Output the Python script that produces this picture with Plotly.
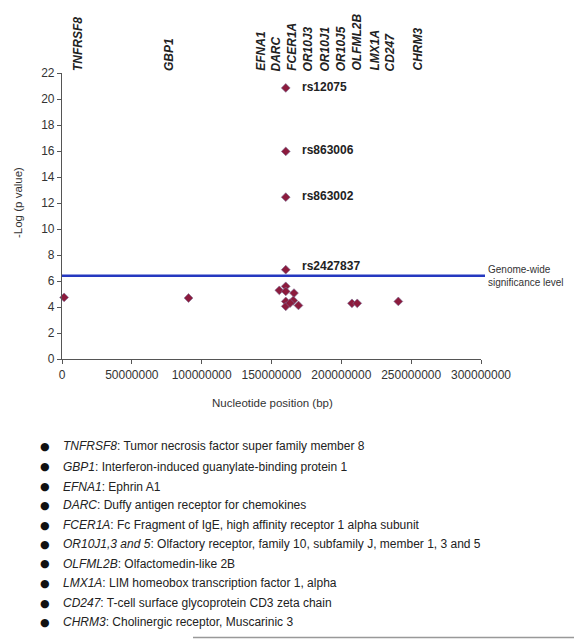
import plotly.graph_objects as go

# ---- data ----
snp_pos = [1.5e6, 90.6e6, 155.6e6, 160.2e6, 160.2e6, 166.1e6, 160.2e6, 165.6e6,
           160.2e6, 169.3e6, 163.3e6, 207.6e6, 211.4e6, 240.8e6,
           160.2e6, 160.2e6, 160.2e6, 160.2e6]
snp_logp = [4.74, 4.69, 5.28, 5.59, 5.2, 5.07, 4.43, 4.5,
            4.05, 4.12, 4.3, 4.28, 4.28, 4.43,
            6.87, 12.45, 15.97, 20.85]
top_snps = ["rs2427837", "rs863002", "rs863006", "rs12075"]
top_pos = [160.2e6, 160.2e6, 160.2e6, 160.2e6]
top_logp = [6.87, 12.45, 15.97, 20.85]

genes = ["TNFRSF8", "GBP1", "EFNA1", "DARC", "FCER1A", "OR10J3", "OR10J1",
         "OR10J5", "OLFML2B", "LMX1A", "CD247", "CHRM3"]
gene_label_pos = [11.5e6, 76.3e6, 142.3e6, 153.2e6, 164.5e6, 176.1e6, 188.3e6,
                  199.6e6, 210.5e6, 223.4e6, 234.8e6, 254.2e6]

significance = 6.4

legend_genes = ["TNFRSF8", "GBP1", "EFNA1", "DARC", "FCER1A", "OR10J1,3 and 5",
                "OLFML2B", "LMX1A", "CD247", "CHRM3"]
legend_desc = [
    "Tumor necrosis factor super family member 8",
    "Interferon-induced guanylate-binding protein 1",
    "Ephrin A1",
    "Duffy antigen receptor for chemokines",
    "Fc Fragment of IgE, high affinity receptor 1 alpha subunit",
    "Olfactory receptor, family 10, subfamily J, member 1, 3 and 5",
    "Olfactomedin-like 2B",
    "LIM homeobox transcription factor 1, alpha",
    "T-cell surface glycoprotein CD3 zeta chain",
    "Cholinergic receptor, Muscarinic 3",
]

x_ticks = [0, 50000000, 100000000, 150000000, 200000000, 250000000, 300000000]
y_ticks = list(range(0, 23, 2))

FONT = "Arial, Liberation Sans, sans-serif"
OFF = 8  # page body margin
W, H = 582 - OFF, 640 - OFF
ML, MT = 62 - OFF, 73 - OFF
MR = W - (481 - OFF)
MB = H - (359 - OFF)
PW = W - ML - MR
PH = H - MT - MB


def py_to_paper(py):
    return (H - MB - (py - OFF)) / PH


def px_to_paper(px):
    return ((px - OFF) - ML) / PW


fig = go.Figure()
fig.add_trace(go.Scatter(
    x=snp_pos, y=snp_logp, mode="markers",
    marker=dict(symbol="diamond", size=6.8, color="#8C1B3D",
                line=dict(color="#7a6f95", width=0.6)),
    cliponaxis=False, showlegend=False, hoverinfo="x+y"))

fig.add_shape(type="line", xref="paper", yref="y", x0=0, x1=px_to_paper(485),
              y0=significance, y1=significance,
              line=dict(color="#2538C0", width=2.5))

ann = []
label_yshift = [4, 1, 1, 1]
for name, xp, yp, ys in zip(top_snps, top_pos, top_logp, label_yshift):
    ann.append(dict(x=xp, y=yp, xref="x", yref="y", text="<b>%s</b>" % name,
                    showarrow=False, xanchor="left", yanchor="middle", xshift=14,
                    yshift=ys, font=dict(family=FONT, size=12, color="#222")))

for g, xp in zip(genes, gene_label_pos):
    ann.append(dict(x=xp, y=22, xref="x", yref="y", text="<b><i>%s</i></b>" % g,
                    showarrow=False, textangle=-90, xanchor="center",
                    yanchor="bottom", yshift=0,
                    font=dict(family=FONT, size=12, color="#222")))

ann.append(dict(x=3e8, y=significance, xref="x", yref="y",
                text="Genome-wide<br>significance level", showarrow=False,
                xanchor="left", yanchor="middle", xshift=5, align="left",
                font=dict(family=FONT, size=10, color="#333")))

ann.append(dict(x=px_to_paper(18), y=py_to_paper(203), xref="paper", yref="paper",
                text="-Log (p value)", showarrow=False, textangle=-90,
                xanchor="center", yanchor="middle",
                font=dict(family=FONT, size=11.5, color="#333")))
ann.append(dict(x=px_to_paper(272), y=py_to_paper(403), xref="paper", yref="paper",
                text="Nucleotide position (bp)", showarrow=False,
                xanchor="center", yanchor="middle",
                font=dict(family=FONT, size=11.5, color="#333")))

row_y = [446, 466.5, 486.5, 505.5, 525, 544, 563.5, 583, 603, 622]
for g, d, py in zip(legend_genes, legend_desc, row_y):
    yp = py_to_paper(py)
    ann.append(dict(x=px_to_paper(44.5), y=yp, xref="paper", yref="paper", text="●",
                    showarrow=False, xanchor="center", yanchor="middle",
                    font=dict(family="DejaVu Sans, sans-serif", size=11, color="#111")))
    ann.append(dict(x=px_to_paper(61), y=yp, xref="paper", yref="paper",
                    text="<i>%s</i>: %s" % (g, d), showarrow=False,
                    xanchor="left", yanchor="middle",
                    font=dict(family=FONT, size=12, color="#222")))

fig.add_shape(type="line", xref="paper", yref="paper",
              x0=px_to_paper(193), x1=px_to_paper(582),
              y0=py_to_paper(637.5), y1=py_to_paper(637.5),
              line=dict(color="#999", width=1.5))

fig.update_layout(
    width=W, height=H, margin=dict(l=ML, r=MR, t=MT, b=MB),
    paper_bgcolor="white", plot_bgcolor="white",
    font=dict(family=FONT, size=12, color="#333"),
    annotations=ann, showlegend=False,
    xaxis=dict(range=[0, 3e8], tickvals=x_ticks, tickformat="d",
               showgrid=False, zeroline=False, showline=True,
               linecolor="#555", linewidth=1.2, ticks="outside", ticklen=4,
               tickcolor="#555", tickfont=dict(family=FONT, size=12, color="#333")),
    yaxis=dict(range=[0, 22], tickvals=y_ticks, showgrid=False, zeroline=False,
               showline=True, linecolor="#555", linewidth=1.2, ticks="outside",
               ticklen=4, tickcolor="#555",
               tickfont=dict(family=FONT, size=12, color="#333")),
)

fig.write_html("out.html")
